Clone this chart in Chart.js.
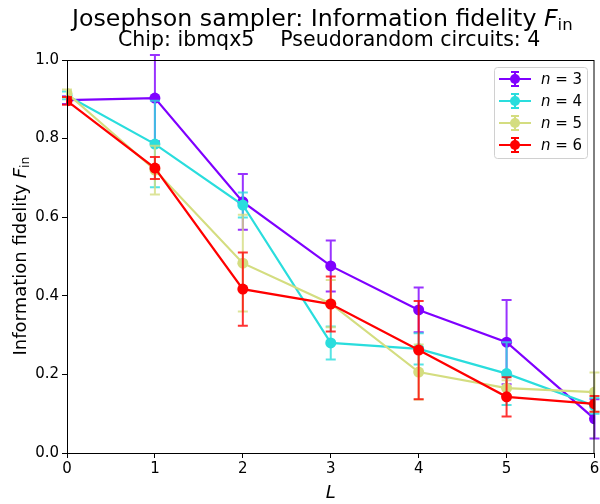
<!DOCTYPE html>
<html>
<head>
<meta charset="utf-8">
<script src="https://cdn.jsdelivr.net/npm/chart.js@4"></script>
<style>
  html, body { margin: 0; padding: 0; background: #fff; }
  #wrap { width: 600px; height: 504px; position: relative; }
</style>
</head>
<body>
<div id="wrap"><canvas id="fidelityChart" width="600" height="504"></canvas></div>
<script>
// layer depth L and fidelity for each qubit count n
const depths = [0, 1, 2, 3, 4, 5, 6]
const seriesNames = ['3', '4', '5', '6']
const fid3 = [0.898, 0.903, 0.639, 0.476, 0.364, 0.282, 0.087]
const err3 = [0.01, 0.11, 0.071, 0.065, 0.057, 0.107, 0.05]
const fid4 = [0.91, 0.786, 0.631, 0.28, 0.265, 0.202, 0.12]
const err4 = [0.01, 0.11, 0.032, 0.042, 0.04, 0.08, 0.02]
const fid5 = [0.915, 0.72, 0.483, 0.38, 0.206, 0.165, 0.155]
const err5 = [0.01, 0.062, 0.123, 0.06, 0.07, 0.02, 0.05]
const fid6 = [0.896, 0.725, 0.417, 0.379, 0.262, 0.143, 0.125]
const err6 = [0.01, 0.028, 0.093, 0.07, 0.125, 0.05, 0.02]
const yTicks = [0, 0.2, 0.4, 0.6, 0.8, 1.0]
const colors = ['#7f00ff', '#2adddd', '#d4dd80', '#ff0000']

const fids = [fid3, fid4, fid5, fid6]
const errs = [err3, err4, err5, err6]
const FONT = "'DejaVu Sans', sans-serif"

// error bars under each series line, drawn per dataset so later series sit on top
const errorBars = {
    id: 'errorBars',
    beforeDatasetDraw(chart, args) {
        const ctx = chart.ctx
        const i = args.index
        const xs = chart.scales.x
        const ys = chart.scales.y
        ctx.save()
        ctx.strokeStyle = colors[i]
        ctx.globalAlpha = 0.8
        ctx.lineWidth = 2
        fids[i].forEach(function (v, k) {
            const x = xs.getPixelForValue(depths[k])
            const yt = ys.getPixelForValue(v + errs[i][k])
            const yb = ys.getPixelForValue(v - errs[i][k])
            ctx.beginPath()
            ctx.moveTo(x, yt)
            ctx.lineTo(x, yb)
            ctx.moveTo(x - 5, yt)
            ctx.lineTo(x + 5, yt)
            ctx.moveTo(x - 5, yb)
            ctx.lineTo(x + 5, yb)
            ctx.stroke()
        })
        ctx.restore()
    },
}

// titles, frame, y label and legend box
const decorations = {
    id: 'decorations',
    afterDraw(chart) {
        const ctx = chart.ctx
        const a = chart.chartArea
        ctx.save()
        // full box
        ctx.strokeStyle = '#000'
        ctx.lineWidth = 1
        ctx.strokeRect(a.left + 0.5, a.top + 0.5, a.right - a.left - 1, a.bottom - a.top)

        // title
        ctx.fillStyle = '#000'
        ctx.textBaseline = 'alphabetic'
        ctx.textAlign = 'left'
        ctx.font = '23.7px ' + FONT
        let t = 'Josephson sampler: Information fidelity '
        let x = 72
        ctx.fillText(t, x, 26)
        x += ctx.measureText(t).width
        ctx.font = 'italic 23.7px ' + FONT
        ctx.fillText('F', x, 26)
        x += ctx.measureText('F').width
        ctx.font = '16.5px ' + FONT
        ctx.fillText('in', x, 30)

        ctx.font = '20.5px ' + FONT
        ctx.textAlign = 'left'
        ctx.fillText('Chip: ibmqx5    Pseudorandom circuits: 4', 118, 46)

        // y label
        ctx.translate(26, 256)
        ctx.rotate(-Math.PI / 2)
        ctx.font = '18px ' + FONT
        const p1 = 'Information fidelity '
        const w1 = ctx.measureText(p1).width
        ctx.font = 'italic 18px ' + FONT
        const w2 = ctx.measureText('F').width
        ctx.font = '12.5px ' + FONT
        const w3 = ctx.measureText('in').width
        let sx = -(w1 + w2 + w3) / 2
        ctx.textAlign = 'left'
        ctx.font = '18px ' + FONT
        ctx.fillText(p1, sx, 0)
        sx += w1
        ctx.font = 'italic 18px ' + FONT
        ctx.fillText('F', sx, 0)
        sx += w2
        ctx.font = '12.5px ' + FONT
        ctx.fillText('in', sx, 3)
        ctx.restore()

        // legend
        ctx.save()
        const bx = 494, by = 67, bw = 93, bh = 91
        ctx.beginPath()
        ctx.roundRect(bx + 0.5, by + 0.5, bw, bh, 3)
        ctx.fillStyle = 'rgba(255,255,255,0.8)'
        ctx.fill()
        ctx.strokeStyle = '#d0d0d0'
        ctx.lineWidth = 1
        ctx.stroke()
        seriesNames.forEach(function (n, i) {
            const cy = 79 + i * 22
            ctx.strokeStyle = colors[i]
            ctx.fillStyle = colors[i]
            ctx.lineWidth = 2
            ctx.beginPath()
            ctx.moveTo(499, cy)
            ctx.lineTo(531, cy)
            ctx.moveTo(515, cy - 7)
            ctx.lineTo(515, cy + 7)
            ctx.moveTo(511, cy - 7)
            ctx.lineTo(519, cy - 7)
            ctx.moveTo(511, cy + 7)
            ctx.lineTo(519, cy + 7)
            ctx.stroke()
            ctx.beginPath()
            ctx.arc(515, cy, 5, 0, Math.PI * 2)
            ctx.fill()
            ctx.fillStyle = '#000'
            ctx.textBaseline = 'middle'
            ctx.textAlign = 'left'
            ctx.font = 'italic 15px ' + FONT
            ctx.fillText('n', 541, cy + 1)
            const wn = ctx.measureText('n').width
            ctx.font = '15px ' + FONT
            ctx.fillText(' = ' + n, 541 + wn, cy + 1)
        })
        ctx.restore()
    },
}

const datasets = seriesNames.map(function (n, i) {
    return {
        label: 'n = ' + n,
        data: fids[i].map(function (v, k) { return { x: depths[k], y: v } }),
        borderColor: colors[i],
        backgroundColor: colors[i],
        borderWidth: 2.2,
        pointRadius: 5.5,
        pointHoverRadius: 5.5,
        pointBorderWidth: 0,
        tension: 0,
        order: 3 - i,
    }
})

new Chart(document.getElementById('fidelityChart'), {
    type: 'line',
    data: { datasets },
    plugins: [errorBars, decorations],
    options: {
        responsive: false,
        animation: false,
        events: [],
        layout: { padding: { top: 60, right: 5, left: 0, bottom: 0 } },
        plugins: {
            legend: { display: false },
            tooltip: { enabled: false },
        },
        scales: {
            x: {
                type: 'linear',
                min: 0,
                max: 6,
                afterFit(scale) {
                    scale.height = 51
                    scale.paddingRight = 0
                    scale.paddingLeft = 0
                },
                afterBuildTicks(scale) {
                    scale.ticks = depths.map(function (v) { return { value: v } })
                },
                grid: { drawOnChartArea: false, drawTicks: true, tickLength: 5, color: '#000' },
                border: { display: true, color: '#000' },
                ticks: { color: '#000', font: { family: FONT, size: 15 }, padding: 2, maxRotation: 0 },
                title: {
                    display: true,
                    text: 'L',
                    color: '#000',
                    font: { family: FONT, size: 18, style: 'italic' },
                    padding: { top: 0, bottom: 0 },
                },
            },
            y: {
                type: 'linear',
                min: 0,
                max: 1,
                afterFit(scale) { scale.width = 67 },
                afterBuildTicks(scale) {
                    scale.ticks = yTicks.map(function (v) { return { value: v } })
                },
                grid: { drawOnChartArea: false, drawTicks: true, tickLength: 5, color: '#000' },
                border: { display: true, color: '#000' },
                ticks: {
                    color: '#000',
                    font: { family: FONT, size: 15 },
                    padding: 3,
                    callback: function (v) { return v.toFixed(1) },
                },
            },
        },
    },
})
</script>
</body>
</html>
